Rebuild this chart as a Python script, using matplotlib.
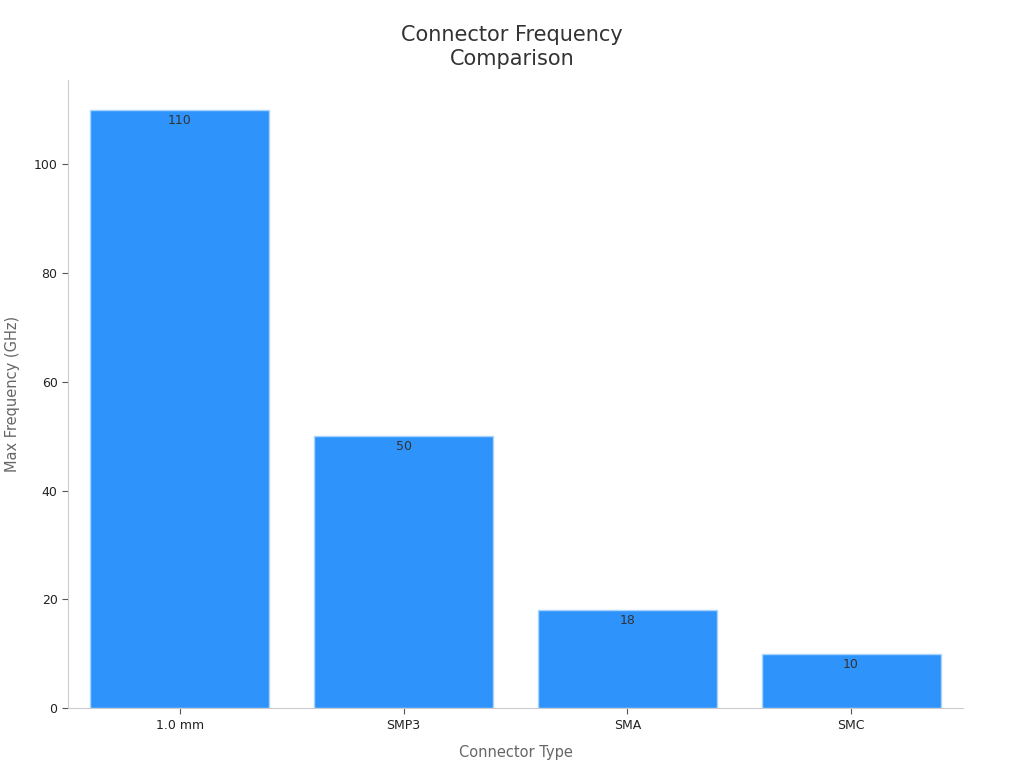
import matplotlib
matplotlib.use("Agg")
import matplotlib.pyplot as plt

connectors = ['1.0 mm', 'SMP3', 'SMA', 'SMC']
max_freq = [110, 50, 18, 10]

fig = plt.figure(figsize=(10.24, 7.68), dpi=100)
ax = fig.add_axes([0.0664, 0.078, 0.874, 0.818])

bars = ax.bar(range(len(connectors)), max_freq, width=0.8, color='#2E93FA',
              edgecolor='#A9D4FF', linewidth=1)

# value labels just inside the top of each bar
for rect, v in zip(bars, max_freq):
    ax.annotate(str(v), (rect.get_x() + rect.get_width() / 2, v),
                xytext=(0, -3), textcoords='offset points',
                ha='center', va='top', fontsize=9, color='#333333')

ax.set_xticks(range(len(connectors)))
ax.set_xticklabels(connectors)
ax.set_xlim(-0.5, 3.5)
ax.set_ylim(0, 115.5)
ax.set_yticks([0, 20, 40, 60, 80, 100])

for side in ('top', 'right'):
    ax.spines[side].set_visible(False)
for side in ('left', 'bottom'):
    ax.spines[side].set_color('#CCCCCC')
ax.tick_params(colors='#555555', labelsize=9, length=4)
ax.tick_params(labelcolor='#222222')

ax.set_xlabel('Connector Type', fontsize=10.5, color='#666666', labelpad=10)
ax.set_ylabel('Max Frequency (GHz)', fontsize=10.5, color='#666666', labelpad=10)
fig.suptitle('Connector Frequency\nComparison', fontsize=15, color='#333333',
             y=0.968, linespacing=1.3)

fig.savefig('out.png', dpi=100)
